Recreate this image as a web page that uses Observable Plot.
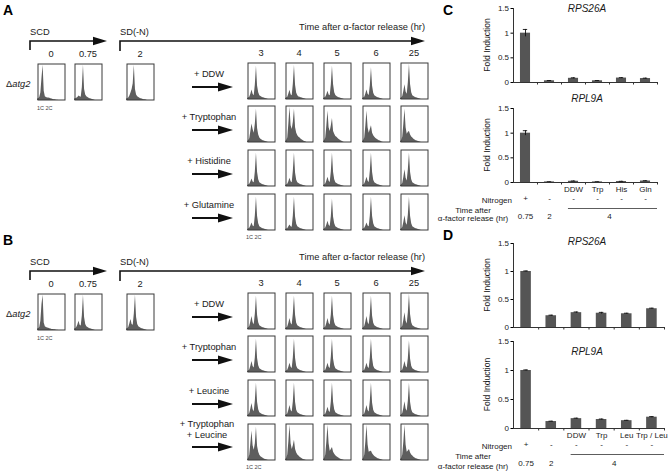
<!DOCTYPE html>
<html><head><meta charset="utf-8">
<script src="https://cdn.jsdelivr.net/npm/d3@7"></script>
<script src="https://cdn.jsdelivr.net/npm/@observablehq/plot@0.6"></script>
<style>
body{margin:0;background:#fff;}
#fig{position:relative;width:670px;height:473px;overflow:hidden;background:#fff;font-family:"Liberation Sans",Arial,Helvetica,sans-serif;}
</style></head><body><div id="fig"></div>
<script>
// ================= DATA =================
const timesLeft = ["0", "0.75", "2"];
const timesGrid = ["3", "4", "5", "6", "25"];
const treatA = [["+ DDW"], ["+ Tryptophan"], ["+ Histidine"], ["+ Glutamine"]];
const treatB = [["+ DDW"], ["+ Tryptophan"], ["+ Leucine"], ["+ Tryptophan", "+ Leucine"]];

// flow-cytometry histograms (relative counts per DNA-content bin, 0-100)
const histLeftA = [
  [4,5,8,20,60,95,25,10,8,7,7,6,5,4,3,2,2,1,1,0],
  [4,5,6,8,12,10,9,35,95,30,15,10,8,6,5,4,3,2,1,0],
  [4,5,7,12,20,30,45,95,30,15,10,8,6,5,4,3,2,2,1,0]
];
const histGridA = [
  [ [3,4,6,14,26,14,10,40,90,36,18,10,8,6,5,4,3,2,1,0],
    [3,4,6,15,25,13,10,42,92,38,17,10,7,6,5,4,3,2,1,0],
    [3,4,6,13,22,12,10,40,90,40,18,11,8,6,5,4,3,2,1,0],
    [3,4,6,15,26,14,11,38,86,36,17,10,8,6,5,4,3,2,1,0],
    [3,4,8,22,40,20,14,45,95,40,18,10,8,6,5,4,3,2,1,0] ],
  [ [3,5,10,30,50,35,25,50,90,38,20,12,9,7,5,4,3,2,1,0],
    [3,5,12,50,95,45,35,55,90,40,25,18,14,12,9,7,5,3,2,0],
    [3,5,12,45,85,40,30,45,65,30,22,16,14,11,8,6,4,3,1,0],
    [3,5,12,45,85,40,25,35,45,25,18,14,11,9,7,5,4,2,1,0],
    [3,5,14,50,90,40,22,28,30,20,15,12,9,7,5,4,3,2,1,0] ],
  [ [3,4,6,12,20,12,10,40,90,38,18,10,8,6,5,4,3,2,1,0],
    [3,4,6,13,22,13,10,42,90,36,17,10,8,6,5,4,3,2,1,0],
    [3,4,7,15,25,14,11,40,90,38,18,10,8,6,5,4,3,2,1,0],
    [3,4,7,15,25,14,11,42,90,38,17,10,8,6,5,4,3,2,1,0],
    [3,4,8,25,45,22,15,45,90,38,18,10,8,6,5,4,3,2,1,0] ],
  [ [3,4,6,12,20,12,10,40,90,38,18,10,8,6,5,4,3,2,1,0],
    [3,4,5,10,15,10,9,40,90,36,17,10,8,6,5,4,3,2,1,0],
    [3,4,7,15,25,14,11,38,85,36,18,10,8,6,5,4,3,2,1,0],
    [3,4,6,12,20,12,10,40,90,38,18,10,8,6,5,4,3,2,1,0],
    [3,4,8,22,40,20,14,42,90,38,18,10,8,6,5,4,3,2,1,0] ]
];
const histLeftB = [
  [4,5,8,25,70,95,20,10,8,7,6,5,4,3,3,2,2,1,1,0],
  [4,5,8,15,25,14,12,40,95,35,16,10,8,6,5,4,3,2,1,0],
  [4,5,8,18,30,16,14,45,95,35,16,10,8,6,5,4,3,2,1,0]
];
const histGridB = [
  [ [3,4,8,20,35,18,13,42,90,38,18,10,8,6,5,4,3,2,1,0],
    [3,4,7,17,30,16,12,42,90,38,17,10,8,6,5,4,3,2,1,0],
    [3,4,7,17,30,16,12,40,90,38,18,10,8,6,5,4,3,2,1,0],
    [3,4,8,20,35,18,13,42,90,36,17,10,8,6,5,4,3,2,1,0],
    [3,4,9,25,45,22,15,45,95,40,18,10,8,6,5,4,3,2,1,0] ],
  [ [3,4,7,17,30,16,12,40,90,38,18,10,8,6,5,4,3,2,1,0],
    [3,4,6,14,25,14,11,40,90,38,17,10,8,6,5,4,3,2,1,0],
    [3,4,6,14,25,14,11,42,90,36,18,10,8,6,5,4,3,2,1,0],
    [3,4,6,14,25,14,11,40,90,38,17,10,8,6,5,4,3,2,1,0],
    [3,4,7,17,30,16,12,38,85,36,17,10,8,6,5,4,3,2,1,0] ],
  [ [3,4,8,20,35,18,13,42,90,38,18,10,8,6,5,4,3,2,1,0],
    [3,4,7,17,30,16,12,40,90,38,17,10,8,6,5,4,3,2,1,0],
    [3,4,6,14,25,14,11,40,90,38,18,10,8,6,5,4,3,2,1,0],
    [3,4,7,17,30,16,12,42,90,36,17,10,8,6,5,4,3,2,1,0],
    [3,4,8,22,40,20,14,42,90,38,18,10,8,6,5,4,3,2,1,0] ],
  [ [3,5,14,45,80,40,28,45,90,38,22,14,10,8,6,4,3,2,1,0],
    [3,5,15,50,95,45,30,40,55,30,20,15,12,9,7,5,3,2,1,0],
    [3,5,15,50,95,45,25,30,35,22,17,13,10,8,6,4,3,2,1,0],
    [3,5,15,50,95,42,22,24,25,18,14,11,9,7,5,4,3,2,1,0],
    [3,5,15,50,95,42,22,26,30,20,15,12,9,7,5,4,3,2,1,0] ]
];

// bar charts (fold induction)
const labelsC = ["", "", "DDW", "Trp", "His", "Gln"];
const labelsD = ["", "", "DDW", "Trp", "Leu", "Trp / Leu"];
const nitrogen = ["+", "-", "-", "-", "-", "-"];
const timeLabels = ["0.75", "2", "", "", "", ""];
const groupTime = "4";
const rps26aC = [1.0, 0.035, 0.085, 0.035, 0.09, 0.08];
const rps26aCErr = [0.075, 0.005, 0.01, 0.005, 0.008, 0.008];
const rpl9aC = [1.0, 0.012, 0.025, 0.012, 0.02, 0.03];
const rpl9aCErr = [0.05, 0.003, 0.005, 0.003, 0.004, 0.006];
const rps26aD = [1.0, 0.21, 0.265, 0.255, 0.245, 0.335];
const rps26aDErr = [0.01, 0.01, 0.012, 0.015, 0.01, 0.01];
const rpl9aD = [1.0, 0.12, 0.17, 0.155, 0.135, 0.195];
const rpl9aDErr = [0.01, 0.006, 0.008, 0.008, 0.006, 0.01];
const yTicks = [0, 0.5, 1, 1.5];

// ================= LAYOUT =================
const FONT = '"Liberation Sans", Arial, Helvetica, sans-serif';
const fig = document.getElementById("fig");
function place(el, left, top) {
  el.style.position = "absolute"; el.style.left = left + "px"; el.style.top = top + "px";
  el.style.maxWidth = "none"; el.style.overflow = "visible";
  fig.appendChild(el);
}

function histo(vals, left, top) {
  const svg = Plot.plot({
    width: 28, height: 37, margin: 0,
    style: {background: "transparent", overflow: "visible"},
    x: {domain: [0, 25], axis: null},
    y: {domain: [0, 100], axis: null},
    marks: [
      Plot.areaY(vals, {x: (d, i) => i, y: d => d, fill: "#5e5e5e"}),
      Plot.frame({stroke: "#3a3a3a", strokeWidth: 1, inset: 0.5})
    ]
  });
  place(svg, left, top);
}

function barChart({vals, errs, top, plotH, marginRight, marginBottom, labels, dyTime}) {
  const n = vals.length;
  const data = vals.map((v, i) => ({i, v, e: errs[i]}));
  const ml = 33, mt = 8, W = 190;
  const pxPerUnit = plotH / 1.5;
  const marks = [
    Plot.rect(data, {x1: d => d.i - 0.21, x2: d => d.i + 0.21, y1: 0, y2: "v", fill: "#555"}),
    Plot.ruleX(data, {x: "i", y1: d => d.v - d.e, y2: d => d.v + d.e, stroke: "#111", strokeWidth: 0.9}),
    Plot.ruleY(data, {y: d => d.v + d.e, x1: d => d.i - 0.09, x2: d => d.i + 0.09, stroke: "#111", strokeWidth: 0.9}),
    Plot.ruleY([0], {stroke: "#333"}),
    Plot.ruleX([-0.5], {y1: 0, y2: 1.5, stroke: "#333"}),
    Plot.ruleX(data, {x: d => d.i + 0.5, y1: 0, y2: -2.5 / pxPerUnit, stroke: "#333"}),
    Plot.axisY({ticks: yTicks, tickSize: 2.5, tickPadding: 2, fontSize: 8, tickFormat: d => String(d), label: null, fill: "#222"})
  ];
  if (labels) {
    marks.push(
      Plot.text(data, {x: "i", text: d => labels[d.i], frameAnchor: "bottom", dy: 9, fontSize: 8, fill: "#222"}),
      Plot.text(data, {x: "i", text: d => nitrogen[d.i], frameAnchor: "bottom", dy: 18, fontSize: 8, fill: "#222"}),
      Plot.text(data, {x: "i", text: d => timeLabels[d.i], frameAnchor: "bottom", dy: dyTime, fontSize: 8, fill: "#222"}),
      Plot.ruleY([0], {x1: 2 - 0.21, x2: n - 0.5, dy: 26, stroke: "#333", strokeWidth: 0.8}),
      Plot.text([groupTime], {x: (2 + n - 1) / 2, text: d => d, frameAnchor: "bottom", dy: dyTime, fontSize: 8, fill: "#222"})
    );
  }
  const svg = Plot.plot({
    width: W, height: mt + plotH + marginBottom,
    marginLeft: ml, marginRight, marginTop: mt, marginBottom,
    style: {background: "transparent", fontFamily: FONT, overflow: "visible"},
    x: {domain: [-0.5, n - 0.5], axis: null},
    y: {domain: [0, 1.5], axis: null},
    marks
  });
  place(svg, 480, top - mt);
}

// ---- flow cytometry panels ----
const leftX = [37, 74, 126];
const gridX = [247, 285, 323, 362, 400];
const rowTops = [62, 105, 149, 193];
[[0, histLeftA, histGridA], [230, histLeftB, histGridB]].forEach(([dy, hl, hg]) => {
  hl.forEach((h, k) => histo(h, leftX[k], 63 + dy));
  hg.forEach((row, r) => row.forEach((h, c) => histo(h, gridX[c], rowTops[r] + dy)));
});

// ---- bar charts ----
barChart({vals: rps26aC, errs: rps26aCErr, top: 8, plotH: 74, marginRight: 13, marginBottom: 8});
barChart({vals: rpl9aC, errs: rpl9aCErr, top: 108, plotH: 74, marginRight: 13, marginBottom: 50, labels: labelsC, dyTime: 36});
barChart({vals: rps26aD, errs: rps26aDErr, top: 243, plotH: 84, marginRight: 6, marginBottom: 8});
barChart({vals: rpl9aD, errs: rpl9aDErr, top: 341, plotH: 87, marginRight: 6, marginBottom: 44, labels: labelsD, dyTime: 37.5});

// ================= ANNOTATION OVERLAY =================
const ov = d3.select(fig).append("svg")
  .attr("width", 670).attr("height", 473)
  .style("position", "absolute").style("left", "0px").style("top", "0px")
  .style("pointer-events", "none").style("overflow", "visible")
  .attr("font-family", FONT).attr("fill", "#1a1a1a");

function txt(x, y, s, o = {}) {
  const t = ov.append("text").attr("x", x).attr("y", y).text(s)
    .attr("font-size", o.size || 9.3)
    .attr("text-anchor", o.anchor || "start");
  if (o.bold) t.attr("font-weight", "bold");
  if (o.italic) t.attr("font-style", "italic");
  if (o.fill) t.attr("fill", o.fill);
  if (o.rotate) t.attr("transform", `rotate(${o.rotate},${x},${y})`);
  return t;
}
function head(x2, y, len, half) {
  ov.append("path").attr("d", `M${x2 - len},${y - half}L${x2},${y}L${x2 - len},${y + half}Z`).attr("fill", "#111");
}
function bracketArrow(x0, y, yDown, x2) {
  ov.append("path").attr("d", `M${x0},${yDown}V${y}H${x2 - 12}`)
    .attr("fill", "none").attr("stroke", "#111").attr("stroke-width", 1.6);
  head(x2, y, 14, 4.2);
}
function arrow(x1, y, x2) {
  ov.append("line").attr("x1", x1).attr("x2", x2 - 12).attr("y1", y).attr("y2", y)
    .attr("stroke", "#111").attr("stroke-width", 2);
  head(x2, y, 15, 4.5);
}

function panel(dy, letter, treat) {
  txt(3, 15 + dy, letter, {bold: true, size: 14, fill: "#000"});
  txt(30, 35 + dy, "SCD");
  txt(120, 35 + dy, "SD(-N)");
  txt(425, 30 + dy, "Time after α-factor release (hr)", {anchor: "end"});
  bracketArrow(30, 41 + dy, 50 + dy, 107);
  bracketArrow(120, 41 + dy, 51 + dy, 425);
  leftX.forEach((x, k) => txt(x + 14, 57 + dy, timesLeft[k], {anchor: "middle"}));
  gridX.forEach((x, k) => txt(x + 14, 56 + dy, timesGrid[k], {anchor: "middle"}));
  const d = ov.append("text").attr("x", 6).attr("y", 87 + dy).attr("font-size", 9.3);
  d.append("tspan").text("Δ");
  d.append("tspan").attr("font-style", "italic").text("atg2");
  txt(37, 110 + dy, "1C 2C", {size: 5.5, fill: "#444"});
  txt(246, 239 + dy, "1C 2C", {size: 5.5, fill: "#444"});
  treat.forEach((lines, r) => {
    const top = rowTops[r] + dy;
    if (lines.length === 1) {
      txt(209, top + 15, lines[0], {anchor: "middle"});
      arrow(192, top + 25, 233);
    } else {
      txt(207, top + 4, lines[0], {anchor: "middle"});
      txt(207, top + 15, lines[1], {anchor: "middle"});
      arrow(192, top + 24, 233);
    }
  });
}
panel(0, "A", treatA);
panel(230, "B", treatB);

// bar chart annotations
txt(443, 15, "C", {bold: true, size: 14, fill: "#000"});
txt(443, 240, "D", {bold: true, size: 14, fill: "#000"});
[[45, "RPS26A", 12], [145, "RPL9A", 102], [285, "RPS26A", 245], [384.5, "RPL9A", 355]].forEach(([cy, title, ty]) => {
  txt(490, cy, "Fold Induction", {size: 8.5, anchor: "middle", rotate: -90});
  txt(587, ty, title, {size: 10, italic: true, anchor: "middle"});
});
[[182, 213, 221], [428, 459, 469]].forEach(([axisY, t1, t2]) => {
  txt(512, axisY + 21, "Nitrogen", {size: 8, anchor: "end"});
  txt(473, t1, "Time after", {size: 8, anchor: "middle"});
  txt(473, t2, "α-factor release (hr)", {size: 8, anchor: "middle"});
});
</script></body></html>
